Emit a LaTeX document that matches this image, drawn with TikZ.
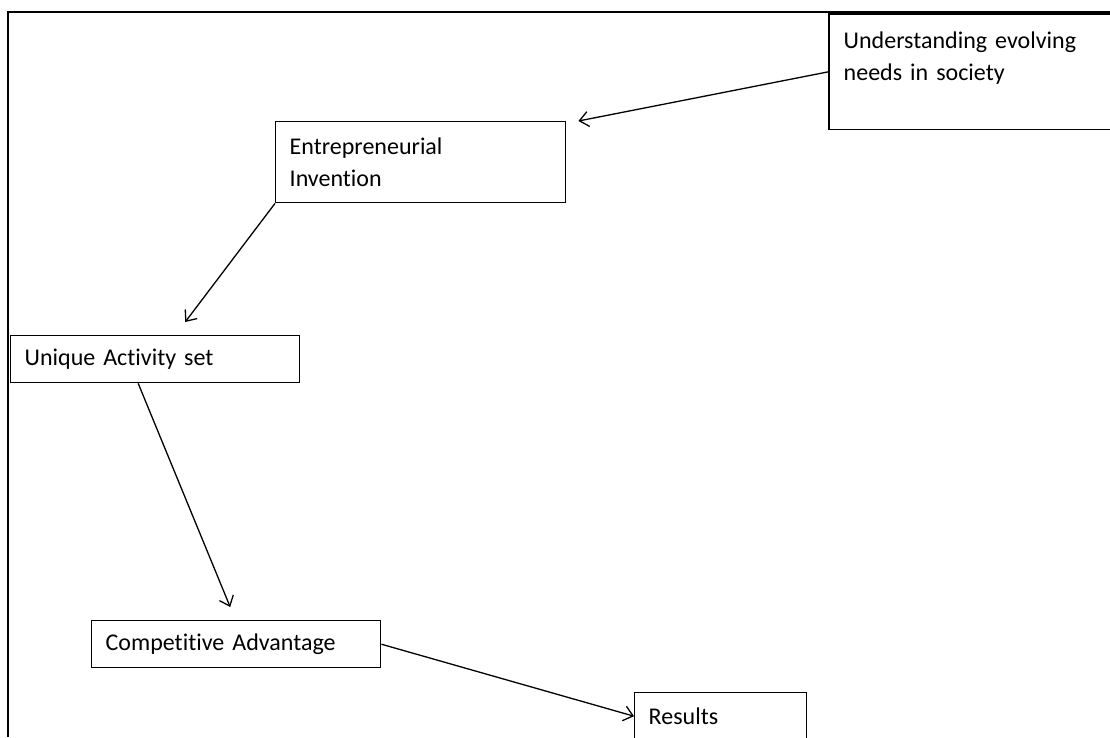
\documentclass[tikz,border=0pt]{standalone}
\usepackage{fontspec}
\setmainfont{Carlito}[Ligatures=NoCommon]
\usetikzlibrary{arrows.meta}

\begin{document}
\begin{tikzpicture}[x=1pt, y=-1pt, thick,
    box/.style={rectangle, draw, line width=1.4pt, anchor=north west, align=left,
        inner xsep=14pt, inner ysep=0pt, font=\fontsize{24}{32}\selectfont},
    link/.style={line width=1.3pt, -{Straight Barb[length=9pt, width=15pt]}}]
    \path[use as bounding box] (0,0) rectangle (1110,737);

    % Frame
    \draw[line width=1.8pt] (8,737) -- (8,12) -- (1110,12);

    % Nodes
    \node (needs) [box, draw=none, minimum width=400pt, text width=372pt, minimum height=114pt] at (829,14) {Understanding evolving\\needs in society\\ \mbox{}};
    \draw[line width=1.4pt] (needs.north east) -- (needs.north west) -- (needs.south west) -- (needs.south east);
    \node (invention) [box, text width=262pt, minimum height=81pt] at (275,121) {Entrepreneurial\\Invention};
    \node (activity) [box, text width=261pt, minimum height=47pt] at (10,335) {Unique Activity set};
    \node (advantage) [box, text width=261pt, minimum height=47pt] at (91,620) {Competitive Advantage};
    \node (results) [box, text width=144pt, minimum height=47pt] at (634,692) {Results};

    % Arrows
    \draw[link] (needs.west) -- ([xshift=12pt]invention.north east);
    \draw[link] (invention.south west) -- ([xshift=30pt, yshift=13pt]activity.north);
    \draw[link] ([xshift=-17pt]activity.south) -- ([xshift=-6pt, yshift=13pt]advantage.north);
    \draw[link] (advantage.east) -- (results.west);

\end{tikzpicture}
\end{document}
